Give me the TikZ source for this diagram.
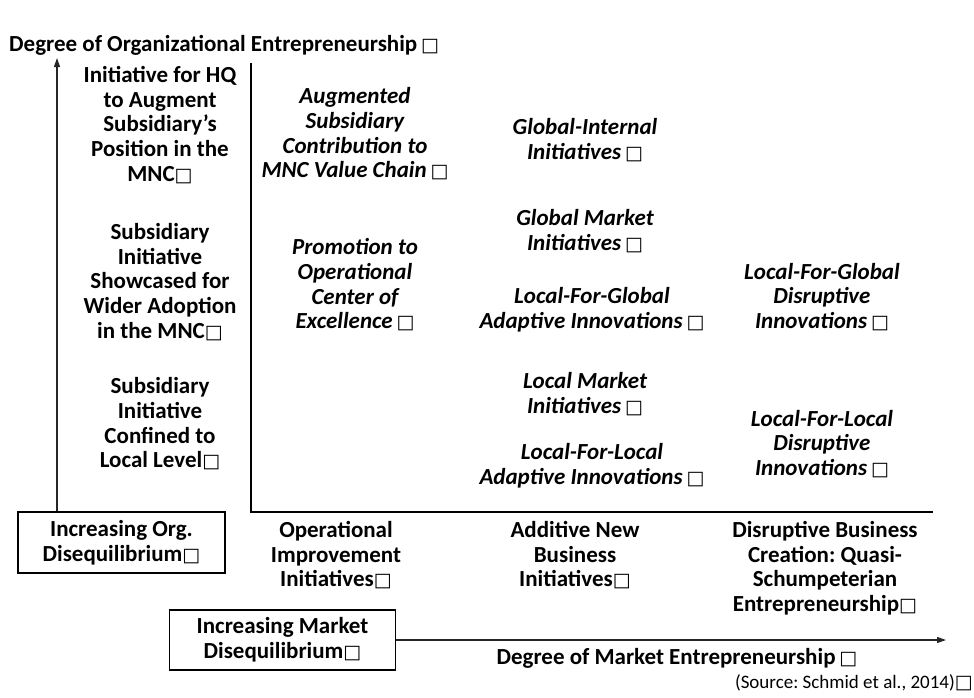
\documentclass[tikz,border=0pt]{standalone}
\usepackage{fontspec}
\setmainfont{Carlito}
\newfontfamily\symfont{DejaVu Sans}
\newcommand{\bx}{{\symfont\fontsize{19}{19}\selectfont □}}
\usetikzlibrary{arrows.meta}
\frenchspacing
\begin{document}
\begin{tikzpicture}[x=1pt,y=-1pt,
  lbl/.style={font=\fontsize{23}{24.7}\selectfont\bfseries, align=center, inner sep=0pt},
  itl/.style={font=\fontsize{23}{24.7}\selectfont\bfseries\itshape, align=center, inner sep=0pt},
  framebox/.style={draw=black, line width=1.1pt, minimum width=207pt, minimum height=61pt, align=center, font=\fontsize{23}{24.7}\selectfont\bfseries},
  axis/.style={line width=2.6pt, black},
  arr/.style={line width=1.2pt, draw=black!85, -{Triangle[length=9pt,width=6pt]}}]
\useasboundingbox (0,0) rectangle (974,697);

% title
\node[lbl, anchor=west] (title) at (9,45) {Degree of Organizational Entrepreneurship\,\bx};

% boxes
\node[framebox] (orgbox) at (121.5,542.5) {Increasing Org.\\Disequilibrium\bx};
\node[framebox, minimum width=226pt, minimum height=60pt] (mktbox) at (282.5,640) {Increasing Market\\Disequilibrium\bx};

% outer arrows
\coordinate (vtip) at (57,58);
\coordinate (htip) at (946,640);
\draw[arr] (orgbox.north -| vtip) -- (vtip);
\draw[arr] (mktbox.east) -- (htip);

% inner axes
\coordinate (atop) at (251,63);
\coordinate (aorig) at (251,512);
\coordinate (aright) at (933,512);
\draw[axis] (atop) -- (aorig) -- (aright);

% left column
\node[lbl] (l1) at (160,125) {Initiative for HQ\\to Augment\\Subsidiary’s\\Position in the\\MNC\bx};
\node[lbl] (l2) at (160,282) {Subsidiary\\Initiative\\Showcased for\\Wider Adoption\\in the MNC\bx};
\node[lbl] (l3) at (160,424) {Subsidiary\\Initiative\\Confined to\\Local Level\bx};

% column 2
\node[itl] (c2a) at (355,134) {Augmented\\Subsidiary\\Contribution to\\MNC Value Chain\,\bx};
\node[itl] (c2b) at (355,285) {Promotion to\\Operational\\Center of\\Excellence\,\bx};

% column 3
\node[itl] (c3a) at (585,140) {Global-Internal\\Initiatives\,\bx};
\node[itl] (c3b) at (585,231) {Global Market\\Initiatives\,\bx};
\node[itl] (c3c) at (592,310) {Local-For-Global\\Adaptive Innovations\,\bx};
\node[itl] (c3d) at (585,394) {Local Market\\Initiatives\,\bx};
\node[itl] (c3e) at (592,466) {Local-For-Local\\Adaptive Innovations\,\bx};

% column 4
\node[itl] (c4a) at (822,297) {Local-For-Global\\Disruptive\\Innovations\,\bx};
\node[itl] (c4b) at (822,444) {Local-For-Local\\Disruptive\\Innovations\,\bx};

% bottom row
\node[lbl, anchor=north] (b1) at (336,521) {Operational\\Improvement\\Initiatives\bx};
\node[lbl, anchor=north] (b2) at (575,521) {Additive New\\Business\\Initiatives\bx};
\node[lbl, anchor=north] (b3) at (825,521) {Disruptive Business\\Creation: Quasi-\\Schumpeterian\\Entrepreneurship\bx};

% x-axis title
\node[lbl] (xtitle) at (677,658) {Degree of Market Entrepreneurship\,\bx};

% source
\node[font=\fontsize{19}{22}\selectfont, anchor=east, inner sep=0pt] (src) at (973,683) {(Source: Schmid et al., 2014)\bx};
\end{tikzpicture}
\end{document}
